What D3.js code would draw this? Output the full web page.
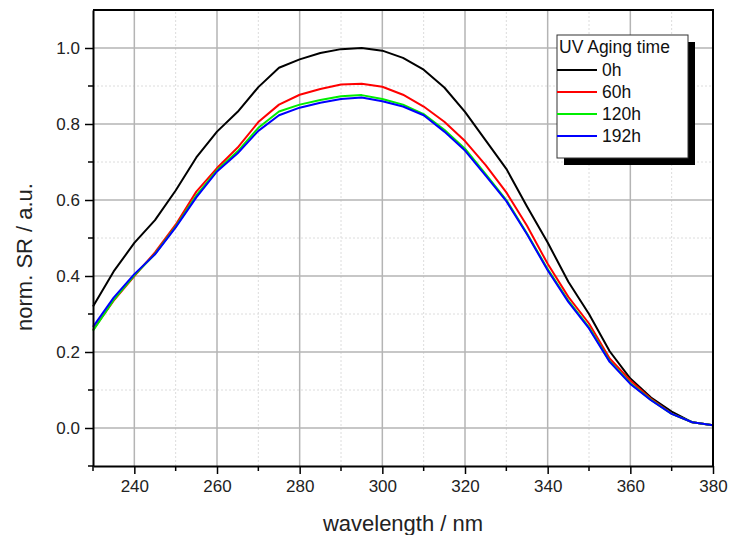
<!DOCTYPE html>
<html>
<head>
<meta charset="utf-8">
<script src="https://cdn.jsdelivr.net/npm/d3@7"></script>
<style>
    body { margin: 0; background: #fff; }
    svg { display: block; font-family: "Liberation Sans", Arial, sans-serif; }
    .axis path, .axis line { stroke: #000; }
    .axis text { font-size: 17px; fill: #222; }
</style>
</head>
<body>
<svg id="chart" width="729" height="535"></svg>
<script>
// Wavelength grid (nm) and normalized spectral response for each aging time.
const wavelengths = [230, 235, 240, 245, 250, 255, 260, 265, 270, 275, 280, 285, 290, 295, 300, 305,
    310, 315, 320, 325, 330, 335, 340, 345, 350, 355, 360, 365, 370, 375, 380];
const sr0h = [0.320, 0.412, 0.487, 0.547, 0.625, 0.712, 0.780, 0.832, 0.897, 0.948, 0.970, 0.987, 0.997, 1.000, 0.993, 0.974,
    0.943, 0.896, 0.832, 0.757, 0.682, 0.583, 0.488, 0.385, 0.300, 0.202, 0.130, 0.080, 0.043, 0.015, 0.007];
const sr60h = [0.258, 0.335, 0.400, 0.462, 0.535, 0.622, 0.684, 0.738, 0.805, 0.851, 0.877, 0.892, 0.904, 0.906, 0.898, 0.877,
    0.846, 0.806, 0.755, 0.692, 0.620, 0.532, 0.432, 0.345, 0.275, 0.183, 0.125, 0.077, 0.038, 0.015, 0.007];
const sr120h = [0.256, 0.337, 0.402, 0.458, 0.530, 0.612, 0.678, 0.728, 0.790, 0.833, 0.851, 0.863, 0.873, 0.876, 0.866, 0.851,
    0.826, 0.785, 0.735, 0.668, 0.600, 0.512, 0.418, 0.335, 0.265, 0.176, 0.118, 0.074, 0.037, 0.015, 0.007];
const sr192h = [0.266, 0.343, 0.405, 0.457, 0.528, 0.607, 0.675, 0.723, 0.782, 0.823, 0.843, 0.856, 0.866, 0.870, 0.860, 0.846,
    0.823, 0.780, 0.730, 0.664, 0.597, 0.510, 0.415, 0.332, 0.262, 0.174, 0.116, 0.073, 0.037, 0.015, 0.007];

const seriesNames = ["0h", "60h", "120h", "192h"];
const seriesColors = ["#000000", "#ff0000", "#00ee00", "#0000ff"];
const seriesValues = [sr0h, sr60h, sr120h, sr192h];

const xMajorTicks = [240, 260, 280, 300, 320, 340, 360, 380];
const xMinorTicks = [230, 250, 270, 290, 310, 330, 350, 370];
const yMajorTicks = [0.0, 0.2, 0.4, 0.6, 0.8, 1.0];
const yMinorTicks = [-0.1, 0.1, 0.3, 0.5, 0.7, 0.9];

const legendTitle = "UV Aging time";
const xTitle = "wavelength / nm";
const yTitle = "norm. SR / a.u.";

const MARGIN = { left: 93, right: 16, top: 10, bottom: 69 };
const WIDTH = 729, HEIGHT = 535;

const svg = d3.select("#chart");

const x = d3.scaleLinear().domain([230, 380]).range([MARGIN.left, WIDTH - MARGIN.right]);
const y = d3.scaleLinear().domain([-0.1, 1.1]).range([HEIGHT - MARGIN.bottom, MARGIN.top]);

const [x0, x1] = x.range();
const [y0, y1] = y.range();

// Grid: dotted minor lines under solid major lines.
const grid = svg.append("g").classed("grid", true);
grid.selectAll("line.x-minor")
    .data(xMinorTicks.filter((d) => d > 230))
    .join("line")
    .attr("x1", (d) => x(d)).attr("x2", (d) => x(d))
    .attr("y1", y0).attr("y2", y1)
    .attr("stroke", "#dcdcdc").attr("stroke-dasharray", "2,2");
grid.selectAll("line.y-minor")
    .data(yMinorTicks.filter((d) => d > -0.1))
    .join("line")
    .attr("x1", x0).attr("x2", x1)
    .attr("y1", (d) => y(d)).attr("y2", (d) => y(d))
    .attr("stroke", "#dcdcdc").attr("stroke-dasharray", "2,2");
grid.selectAll("line.x-major")
    .data(xMajorTicks.filter((d) => d < 380))
    .join("line")
    .attr("x1", (d) => x(d)).attr("x2", (d) => x(d))
    .attr("y1", y0).attr("y2", y1)
    .attr("stroke", "#b4b4b4").attr("stroke-width", 1.5);
grid.selectAll("line.y-major")
    .data(yMajorTicks)
    .join("line")
    .attr("x1", x0).attr("x2", x1)
    .attr("y1", (d) => y(d)).attr("y2", (d) => y(d))
    .attr("stroke", "#b4b4b4").attr("stroke-width", 1.5);

// Curves
const line = d3.line()
    .x((d) => x(d[0]))
    .y((d) => y(d[1]));

svg.append("g")
    .classed("curves", true)
    .selectAll("path")
    .data(seriesValues.map((vals, i) => ({ i, pts: wavelengths.map((w, j) => [w, vals[j]]) })))
    .join("path")
    .attr("fill", "none")
    .attr("stroke", (d) => seriesColors[d.i])
    .attr("stroke-width", 2)
    .attr("stroke-linejoin", "round")
    .attr("d", (d) => line(d.pts));

// Frame (top and right)
svg.append("path")
    .attr("d", `M${x0},${y1}H${x1}V${y0}`)
    .attr("fill", "none")
    .attr("stroke", "#000")
    .attr("stroke-width", 2);

// Axes
const xAxis = svg.append("g")
    .classed("axis", true)
    .attr("transform", `translate(0,${y0})`)
    .call(d3.axisBottom(x).tickValues(xMajorTicks).tickSize(8).tickSizeOuter(0).tickPadding(6).tickFormat(d3.format("d")));
xAxis.select(".domain").attr("stroke-width", 2);
xAxis.selectAll(".tick line").attr("stroke-width", 1.5);
xAxis.selectAll("g.minor")
    .data(xMinorTicks)
    .join("line")
    .attr("x1", (d) => x(d)).attr("x2", (d) => x(d))
    .attr("y1", 0).attr("y2", 5)
    .attr("stroke", "#000").attr("stroke-width", 1.5);

const yAxis = svg.append("g")
    .classed("axis", true)
    .attr("transform", `translate(${x0},0)`)
    .call(d3.axisLeft(y).tickValues(yMajorTicks).tickSize(8).tickSizeOuter(0).tickPadding(5).tickFormat(d3.format(".1f")));
yAxis.select(".domain").attr("stroke-width", 2);
yAxis.selectAll(".tick line").attr("stroke-width", 1.5);
yAxis.selectAll("g.minor")
    .data(yMinorTicks)
    .join("line")
    .attr("x1", -5).attr("x2", 0)
    .attr("y1", (d) => y(d)).attr("y2", (d) => y(d))
    .attr("stroke", "#000").attr("stroke-width", 1.5);

// Axis titles
svg.append("text")
    .attr("x", (x0 + x1) / 2)
    .attr("y", 531)
    .attr("text-anchor", "middle")
    .attr("font-size", 22)
    .attr("fill", "#222")
    .text(xTitle);
svg.append("text")
    .attr("transform", `translate(32,${(y0 + y1) / 2 + 19}) rotate(-90)`)
    .attr("text-anchor", "middle")
    .attr("font-size", 22)
    .attr("fill", "#222")
    .text(yTitle);

// Legend with drop shadow
const LEGEND = { x: 557, y: 35, w: 131, h: 123, shadow: 7, rowH: 22 };
const legend = svg.append("g").classed("legend", true);
legend.append("rect")
    .attr("x", LEGEND.x + LEGEND.shadow).attr("y", LEGEND.y + LEGEND.shadow)
    .attr("width", LEGEND.w).attr("height", LEGEND.h)
    .attr("fill", "#000");
legend.append("rect")
    .attr("x", LEGEND.x).attr("y", LEGEND.y)
    .attr("width", LEGEND.w).attr("height", LEGEND.h)
    .attr("fill", "#fff").attr("stroke", "#333").attr("stroke-width", 1);
legend.append("text")
    .attr("x", LEGEND.x + 2).attr("y", LEGEND.y + 18)
    .attr("font-size", 17.5)
    .attr("fill", "#111")
    .text(legendTitle);
const entry = legend.selectAll("g.entry")
    .data(seriesNames)
    .join("g")
    .classed("entry", true)
    .attr("transform", (d, i) => `translate(${LEGEND.x},${LEGEND.y + 35 + i * LEGEND.rowH})`);
entry.append("line")
    .attr("x1", 0).attr("x2", 40)
    .attr("stroke", (d, i) => seriesColors[i])
    .attr("stroke-width", 2);
entry.append("text")
    .attr("x", 45).attr("y", 6)
    .attr("font-size", 17.5)
    .attr("fill", "#111")
    .text((d) => d);
</script>
</body>
</html>
